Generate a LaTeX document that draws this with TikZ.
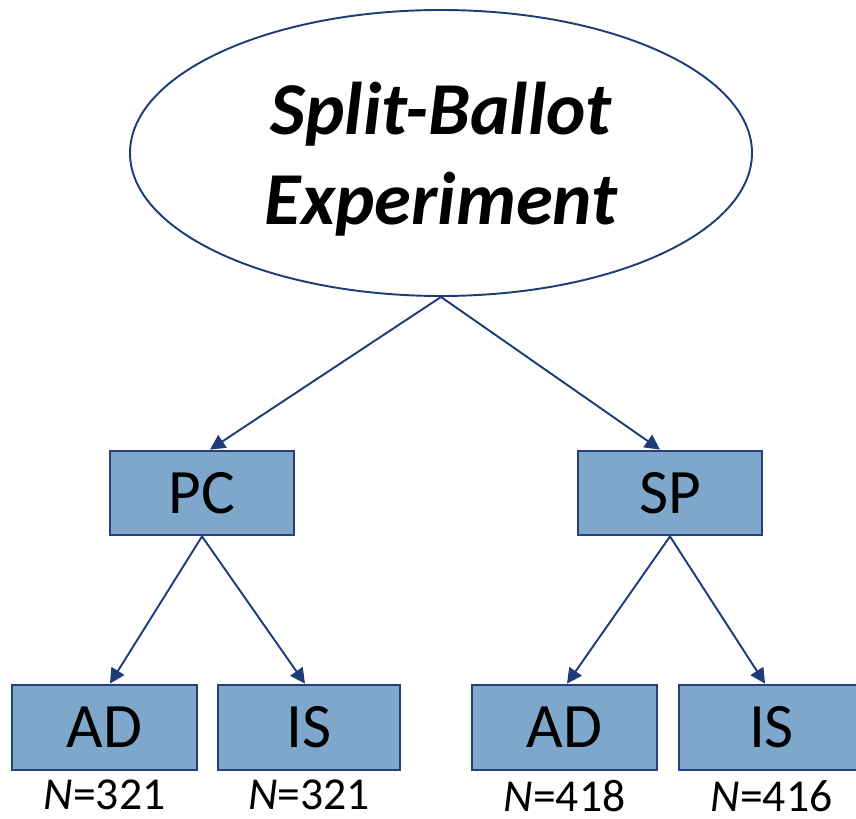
\documentclass[tikz,border=0pt]{standalone}
\usepackage{fontspec}
\setmainfont{Carlito}
\usetikzlibrary{positioning}
\usetikzlibrary{shapes.geometric, arrows.meta}
\definecolor{boxfill}{RGB}{126,167,203}
\definecolor{boxline}{RGB}{36,66,120}
\definecolor{arrline}{RGB}{30,60,120}
\tikzset{
  groupbox/.style={rectangle,draw=boxline,line width=1.6pt,fill=boxfill,minimum width=3.68cm,minimum height=1.68cm,inner sep=0pt,font=\fontsize{36}{40}\selectfont},
  arr/.style={draw=arrline,line width=1.1pt,-{Triangle[length=0.3cm,width=0.3cm]}},
  count/.style={inner sep=0pt,font=\fontsize{26}{30}\selectfont}
}

\begin{document}
\begin{tikzpicture}
\useasboundingbox (0,0) rectangle (17.12,16.36);
% top ellipse
\node[ellipse,draw=arrline,line width=1.1pt,minimum width=12.44cm,minimum height=5.72cm,inner sep=0pt] (root) at (8.82,13.30) {};
\node[align=center,font=\fontsize{42.5}{51}\selectfont\bfseries\itshape,below=0.12cm of root.center,anchor=center] (title) {Split-Ballot\\Experiment};

% second level
\node[groupbox] (pc) at (4.04,6.50) {PC};
\node[groupbox] (sp) at (13.40,6.50) {SP};

% third level
\node[groupbox,minimum width=3.70cm,minimum height=1.70cm] (adpc) at (2.09,1.81) {AD};
\node[groupbox,minimum width=3.64cm,minimum height=1.70cm] (ispc) at (6.18,1.81) {IS};
\node[groupbox,minimum width=3.70cm,minimum height=1.70cm] (adsp) at (11.29,1.81) {AD};
\node[groupbox,minimum width=3.70cm,minimum height=1.70cm] (issp) at (15.43,1.81) {IS};

\node[count,below=0.17cm of adpc] (nadpc) {\textit{N}=321};
\node[count,below=0.17cm of ispc] (nispc) {\textit{N}=321};
\node[count,below=0.17cm of adsp] (nadsp) {\textit{N}=418};
\node[count,below=0.17cm of issp] (nissp) {\textit{N}=416};

\draw[arr] (root.south) -- ([xshift=0.16cm]pc.north);
\draw[arr] (root.south) -- ([xshift=-0.2cm]sp.north);
\draw[arr] (pc.south) -- ([xshift=0.11cm]adpc.north);
\draw[arr] (pc.south) -- ([xshift=-0.08cm]ispc.north);
\draw[arr] (sp.south) -- ([xshift=0.05cm]adsp.north);
\draw[arr] (sp.south) -- ([xshift=-0.13cm]issp.north);

\end{tikzpicture}
\end{document}
